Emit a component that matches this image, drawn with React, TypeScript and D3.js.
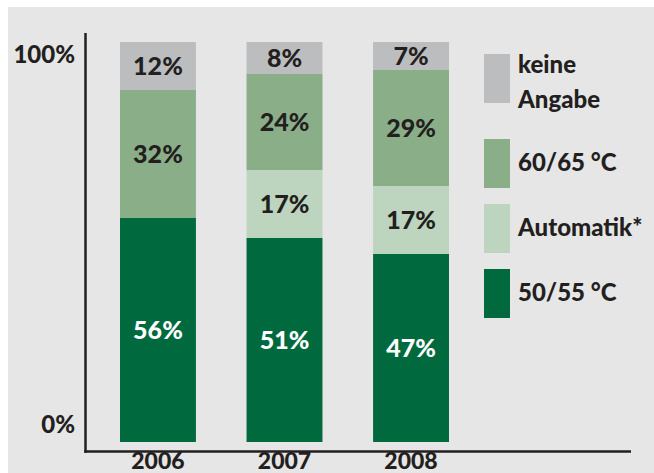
import React from "react";
import * as d3 from "d3";

const years = ["2006", "2007", "2008"];
const series5055 = [56, 51, 47];
const seriesAuto = [0, 17, 17];
const series6065 = [32, 24, 29];
const seriesKeine = [12, 8, 7];
const yTickLabels = ["0%", "100%"];

const keys = ["s5055", "auto", "s6065", "keine"];
const colors: Record<string, string> = {
  s5055: "#006a3e",
  auto: "#bdd5be",
  s6065: "#8aae87",
  keine: "#bcbdbf",
};
const labelColors: Record<string, string> = {
  s5055: "#ffffff",
  auto: "#231f20",
  s6065: "#231f20",
  keine: "#231f20",
};
const legendItems = [
  { key: "keine", lines: ["keine", "Angabe"] },
  { key: "s6065", lines: ["60/65 °C"] },
  { key: "auto", lines: ["Automatik*"] },
  { key: "s5055", lines: ["50/55 °C"] },
];

export default function App() {
  const W = 654, H = 473;
  const FONT = "Lato, 'Open Sans', sans-serif";
  const TXT = "#231f20";
  const WEIGHT = 900;
  const rows = years.map((y, i) => ({
    year: y,
    s5055: series5055[i],
    auto: seriesAuto[i],
    s6065: series6065[i],
    keine: seriesKeine[i],
  }));
  const stacked = d3.stack<any>().keys(keys)(rows);
  const x = d3.scaleBand().domain(years).range([120, 449]).paddingInner(0.4).paddingOuter(0);
  const y = d3.scaleLinear().domain([0, 100]).range([442, 42]);
  const axisX = 85.5;
  const axisY = 451.5;

  let ly = 54;
  const legendPos = legendItems.map((it) => {
    const p = ly;
    ly += it.lines.length === 2 ? 85 : 65;
    return p;
  });

  return (
    <svg width={W} height={H} style={{ position: "absolute", left: 0, top: 0 }} fontFamily={FONT}>
      <rect x={8} y={7} width={W - 8} height={H - 7} fill="#e6e6e6" />
      {stacked.map((s) =>
        s.map((d, i) => {
          const v = d[1] - d[0];
          if (v <= 0) return null;
          const x0 = x(years[i])!;
          const yTop = y(d[1]);
          const yBot = y(d[0]);
          return (
            <g key={s.key + i}>
              <rect x={x0} y={yTop} width={x.bandwidth()} height={yBot - yTop} fill={colors[s.key]} />
              <text
                x={x0 + x.bandwidth() / 2}
                y={(yTop + yBot) / 2 + 9}
                textAnchor="middle"
                fontSize={25}
                fontWeight={WEIGHT}
                fill={labelColors[s.key]}
              >
                {v}%
              </text>
            </g>
          );
        })
      )}
      <line x1={axisX} x2={axisX} y1={33} y2={axisY + 1.25} stroke={TXT} strokeWidth={2.5} />
      <line x1={axisX - 1.25} x2={631} y1={axisY} y2={axisY} stroke={TXT} strokeWidth={2.5} />
      <text x={75} y={y(0) - 9} textAnchor="end" fontSize={24} fontWeight={WEIGHT} fill={TXT}>
        {yTickLabels[0]}
      </text>
      <text x={75} y={y(100) + 21} textAnchor="end" fontSize={24} fontWeight={WEIGHT} fill={TXT}>
        {yTickLabels[1]}
      </text>
      {years.map((yr) => (
        <text
          key={yr}
          x={x(yr)! + x.bandwidth() / 2}
          y={469}
          textAnchor="middle"
          fontSize={23}
          fontWeight={WEIGHT}
          fill={TXT}
        >
          {yr}
        </text>
      ))}
      {legendItems.map((it, i) => {
        const top = legendPos[i];
        return (
          <g key={it.key}>
            <rect x={484} y={top} width={26} height={49} fill={colors[it.key]} />
            {it.lines.map((ln, j) => (
              <text
                key={j}
                x={518}
                y={it.lines.length === 2 ? top + 19 + j * 35 : top + 32}
                fontSize={24}
                fontWeight={WEIGHT}
                fill={TXT}
              >
                {ln}
              </text>
            ))}
          </g>
        );
      })}
    </svg>
  );
}
